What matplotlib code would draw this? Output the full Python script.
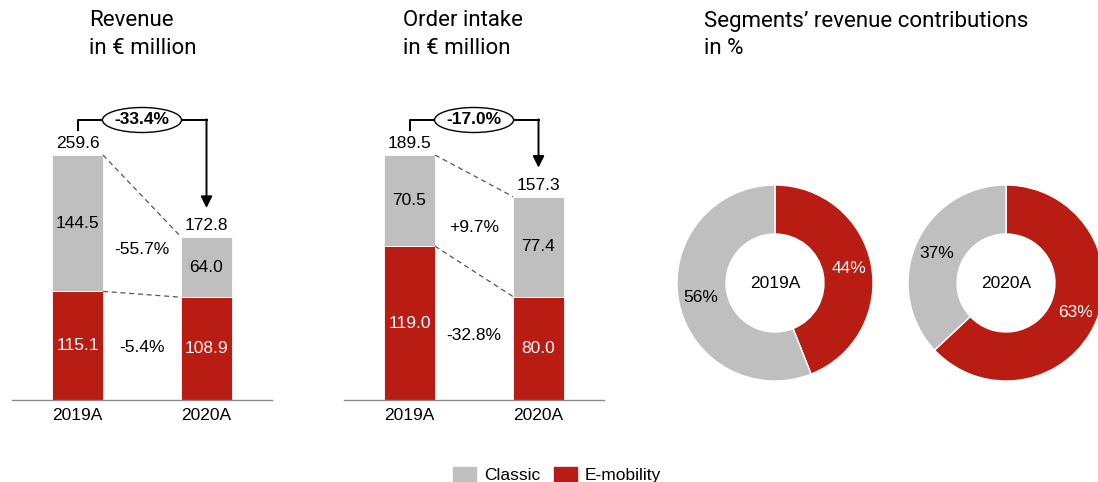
import matplotlib
matplotlib.use("Agg")
import matplotlib.pyplot as plt
from matplotlib.patches import Ellipse, Patch
import numpy as np

plt.rcParams['font.family'] = ['Liberation Sans', 'DejaVu Sans']

# --- data ---
years = ["2019A", "2020A"]

rev_classic = [144.5, 64.0]
rev_emob = [115.1, 108.9]
rev_total = [259.6, 172.8]
rev_change_total = "-33.4%"
rev_change_classic = "-55.7%"
rev_change_emob = "-5.4%"

oi_classic = [70.5, 77.4]
oi_emob = [119.0, 80.0]
oi_total = [189.5, 157.3]
oi_change_total = "-17.0%"
oi_change_classic = "+9.7%"
oi_change_emob = "-32.8%"

share_emob = [44, 63]
share_classic = [56, 37]

GREY = "#BFBFBF"
RED = "#B81C12"

W, H = 1098, 482
fig = plt.figure(figsize=(W / 100, H / 100), dpi=100)


def px_axes(left, top, width, height):
    return fig.add_axes([left / W, 1 - (top + height) / H, width / W, height / H])


def bar_panel(left, classic, emob, total, ch_total, ch_classic, ch_emob):
    ax = px_axes(left, 100, 260, 300)
    k = max(total) / 245.0          # data units per pixel
    ax.set_ylim(0, 300 * k)
    ax.set_xlim(-65.5 / 129, 194.5 / 129)
    x = np.arange(len(classic))
    bw = 51 / 129
    ax.bar(x, emob, width=bw, color=RED, edgecolor="white", lw=0.6)
    ax.bar(x, classic, bottom=emob, width=bw, color=GREY, edgecolor="white", lw=0.6)

    for i in x:
        ax.text(i, emob[i] / 2, f"{emob[i]:.1f}", ha="center", va="center",
                color="white", fontsize=12.5)
        ax.text(i, emob[i] + classic[i] / 2, f"{classic[i]:.1f}", ha="center",
                va="center", color="black", fontsize=12.5)
        ax.text(i, total[i] + 4 * k, f"{total[i]:.1f}", ha="center",
                va="bottom", fontsize=12.5)

    # dashed connectors
    ax.plot([bw / 2, 1 - bw / 2], [total[0], total[1]], ls=(0, (4, 3)),
            color="#555555", lw=0.9)
    ax.plot([bw / 2, 1 - bw / 2], [emob[0], emob[1]], ls=(0, (4, 3)),
            color="#555555", lw=0.9)

    ax.text(0.5, (emob[0] + classic[0] / 2 + emob[1] + classic[1] / 2) / 2 - 4 * k,
            ch_classic, ha="center", va="center", fontsize=12.5)
    ax.text(0.5, (emob[0] / 2 + emob[1] / 2) / 2, ch_emob, ha="center",
            va="center", fontsize=12.5)

    # bracket with arrow
    y_top = 280 * k
    ax.plot([0, 0, 1], [270 * k, y_top, y_top], color="black", lw=1.4,
            clip_on=False)
    ax.annotate("", xy=(1, total[1] + 29 * k), xytext=(1, y_top + 0.7 * k),
                arrowprops=dict(arrowstyle="-|>", color="black", lw=1.4,
                                mutation_scale=17, shrinkA=0, shrinkB=0),
                annotation_clip=False)
    ax.add_patch(Ellipse((0.5, y_top), 79 / 129, 25 * k, facecolor="white",
                         edgecolor="black", lw=1, clip_on=False, zorder=3))
    ax.text(0.5, y_top, ch_total, ha="center", va="center", fontsize=12.5,
            fontweight="bold", zorder=4)

    ax.set_xticks(x)
    ax.set_xticklabels(years, fontsize=12.5)
    ax.tick_params(axis="x", length=0, pad=6)
    ax.set_yticks([])
    for s in ax.spines.values():
        s.set_visible(False)
    ax.spines["bottom"].set_visible(True)
    ax.spines["bottom"].set_color("#8C8C8C")
    ax.spines["bottom"].set_linewidth(1)
    return ax


bar_panel(12, rev_classic, rev_emob, rev_total, rev_change_total,
          rev_change_classic, rev_change_emob)
bar_panel(344, oi_classic, oi_emob, oi_total, oi_change_total,
          oi_change_classic, oi_change_emob)

# donuts
for cx, emob, classic, yr in [(775, share_emob[0], share_classic[0], years[0]),
                              (1006, share_emob[1], share_classic[1], years[1])]:
    ax = px_axes(cx - 105, 283 - 105, 210, 210)
    wedges, _ = ax.pie([emob, classic], colors=[RED, GREY], startangle=90,
                       counterclock=False, radius=1,
                       wedgeprops=dict(width=0.5, edgecolor="white", lw=1))
    angles = [90 - emob * 3.6 / 2, 90 - emob * 3.6 - classic * 3.6 / 2]
    for val, ang, col in zip([emob, classic], angles, ["white", "black"]):
        r = 0.77
        ax.text(r * np.cos(np.radians(ang)), r * np.sin(np.radians(ang)),
                f"{val}%", ha="center", va="center", color=col, fontsize=12.5)
    ax.text(0, 0, yr, ha="center", va="center", fontsize=12.5)
    ax.set_xlim(-105 / 98, 105 / 98)
    ax.set_ylim(-105 / 98, 105 / 98)
    ax.set_aspect("equal")
    ax.axis("off")


# titles
def title(x, l1, l2):
    fig.text(x / W, 1 - 21 / H, l1, fontsize=16, va="center", ha="left",
             family=["Roboto", "DejaVu Sans"])
    fig.text(x / W, 1 - 49 / H, l2, fontsize=16, va="center", ha="left",
             family=["Roboto", "DejaVu Sans"])


title(89, "Revenue", "in € million")
title(403, "Order intake", "in € million")
title(704, "Segments’ revenue contributions", "in %")

fig.legend(handles=[Patch(color=GREY, label="Classic"), Patch(color=RED, label="E-mobility")],
           loc="center", bbox_to_anchor=(557 / W, 1 - 475 / H), ncol=2,
           frameon=False, fontsize=12.5, handlelength=1.3, handleheight=1.0,
           handletextpad=0.45, columnspacing=0.8)

fig.savefig("out.png", dpi=100)
